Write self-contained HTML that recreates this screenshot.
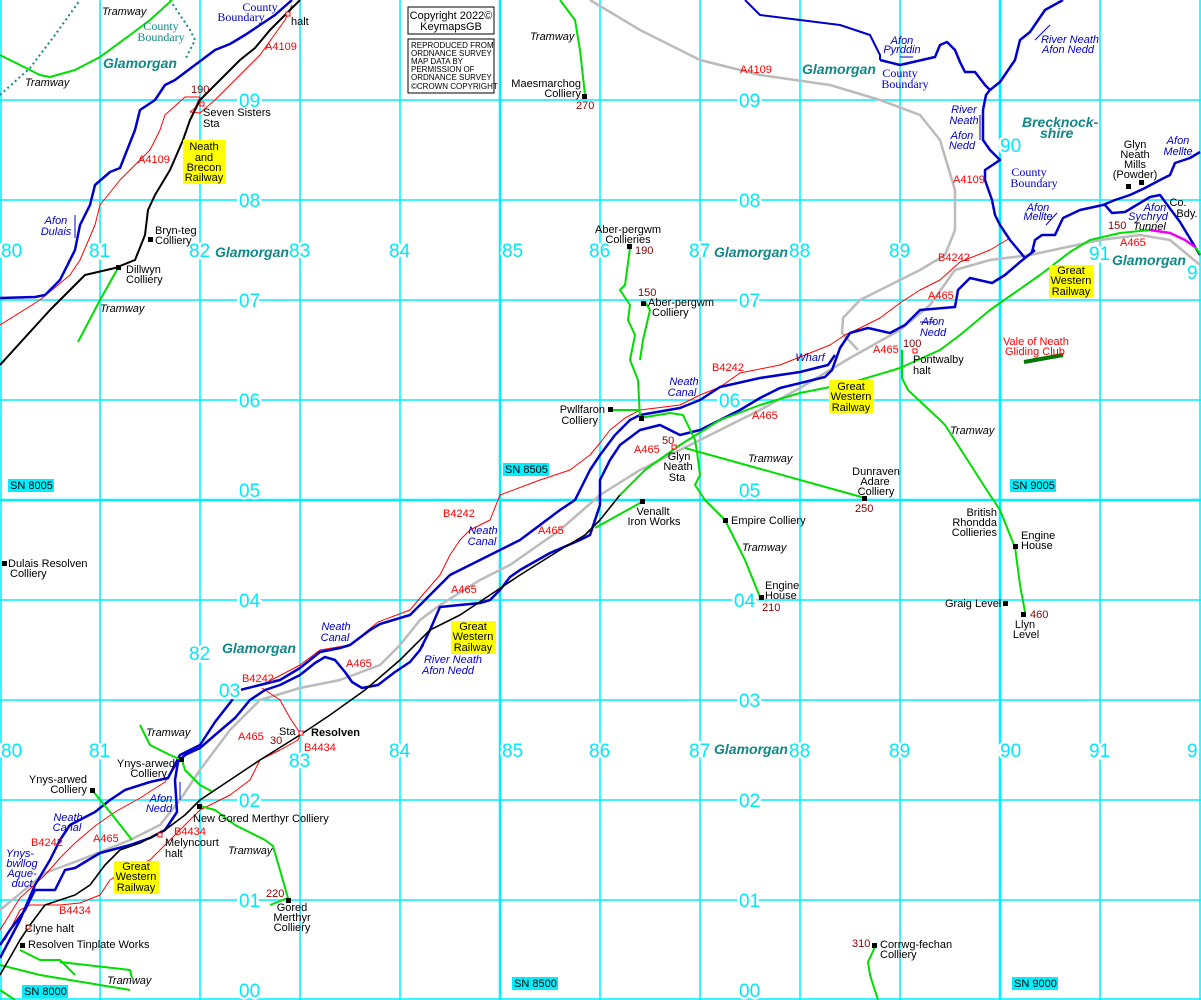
<!DOCTYPE html>
<html><head><meta charset="utf-8"><style>
html,body{margin:0;padding:0;background:#fff}
svg{display:block}
text{font-family:"Liberation Sans",Arial,sans-serif;font-size:11px}
.g text{fill:#00e8f8;font-size:19px;stroke:#fff;stroke-width:5px;paint-order:stroke}
.k text{fill:#000}
.r text{fill:#f00}
.m text{fill:#800}
.b text{fill:#00c;font-style:italic}
.t text{font-style:italic;fill:#000}
.gl text{fill:#118888;font-weight:bold;font-style:italic;font-size:14px}
.cb text{fill:#00c;font-family:"Liberation Serif",serif;font-size:12px}
.cbt text{fill:#118888;font-family:"Liberation Serif",serif;font-size:12px}
.sm text{font-size:8px;fill:#000}
</style></head><body>
<svg width="1201" height="1000" viewBox="0 0 1201 1000" xmlns="http://www.w3.org/2000/svg">
<rect width="1201" height="1000" fill="#fff"/>
<g stroke="#00eeff" stroke-width="1.5">
<line x1="1" y1="0" x2="1" y2="1000"/><line x1="100" y1="0" x2="100" y2="1000"/><line x1="200" y1="0" x2="200" y2="1000"/><line x1="300" y1="0" x2="300" y2="1000"/><line x1="400" y1="0" x2="400" y2="1000"/><line x1="500" y1="0" x2="500" y2="1000" stroke-width="2.5"/><line x1="600" y1="0" x2="600" y2="1000"/><line x1="700" y1="0" x2="700" y2="1000"/><line x1="800" y1="0" x2="800" y2="1000"/><line x1="900" y1="0" x2="900" y2="1000"/><line x1="1000" y1="0" x2="1000" y2="1000" stroke-width="2.5"/><line x1="1100" y1="0" x2="1100" y2="1000"/><line x1="1200" y1="0" x2="1200" y2="1000"/>
<line x1="0" y1="100" x2="1201" y2="100"/><line x1="0" y1="200" x2="1201" y2="200"/><line x1="0" y1="300" x2="1201" y2="300"/><line x1="0" y1="400" x2="1201" y2="400"/><line x1="0" y1="500" x2="1201" y2="500" stroke-width="2.5"/><line x1="0" y1="600" x2="1201" y2="600"/><line x1="0" y1="700" x2="1201" y2="700"/><line x1="0" y1="800" x2="1201" y2="800"/><line x1="0" y1="900" x2="1201" y2="900"/><line x1="0" y1="999" x2="1201" y2="999"/>
</g>
<g stroke="#118888" stroke-width="2" fill="none" stroke-dasharray="2,3">
<polyline points="0,95 30,68 55,35 80,0"/>
<polyline points="170,0 190,30 195,40 185,60"/>
</g>
<g fill="none" stroke-linejoin="round">
<polyline stroke="#bbb" stroke-width="2.5" points="0,910 45,873 80,860 130,840 160,825 180,800 200,770 230,730 260,700 300,688 340,680 380,665 400,645 420,620 440,605 480,580 510,565 560,530 600,495 640,470 700,440 760,410 800,388 850,358 900,330 930,305 955,270 990,260 1030,255 1100,240 1140,235 1170,240 1200,265"/>
<polyline stroke="#bbb" stroke-width="2.5" points="590,0 640,30 700,60 760,75 830,85 880,100 920,115 940,140 955,190 955,230 945,255 920,270 890,285 860,300 843,318 842,333 858,350"/>
<polyline stroke="#f00" stroke-width="1" points="0,325 40,300 70,275 80,260 95,225 100,205 120,180 150,150 160,130 165,115 185,97 188,97 200,97 195,108 190,112 200,113 215,100 235,80 260,55 285,20 292,5"/>
<polyline stroke="#f00" stroke-width="1" points="0,930 20,898 45,875 60,858 75,843 95,826 115,812 140,798 165,782 180,760 200,745 213,725 240,690 262,685 300,665 320,650 350,645 378,622 410,610 420,598 440,575 450,555 460,540 470,530 490,520 500,495 540,480 570,470 590,455 600,443 610,430 625,418 640,410 680,405 700,395 720,387 740,373 780,365 830,345 845,335 860,328 880,318 900,303 920,290 940,280 960,262 990,250 1010,238"/>
<polyline stroke="#f00" stroke-width="1" points="262,688 280,700 290,718 300,733"/>
<polyline stroke="#f00" stroke-width="1" points="5,940 20,910 30,905 60,905 80,903 100,895 110,880 125,870 150,860 170,840 200,810 210,805 230,795 250,780 260,760 280,750 298,740 300,735"/>
<polyline stroke="#00c" stroke-width="2.5" points="0,298 35,297 45,295 60,280 75,250 80,225 90,205 95,185 110,172 120,168 135,130 140,110 155,100 165,85 175,80 195,65 215,50 230,44 245,35 260,25 275,15 292,0"/>
<polyline stroke="#00c" stroke-width="2.5" points="0,958 20,920 35,885 50,860 60,840 70,825 95,812 110,800 125,790 150,782 168,778 180,755 200,745 215,722 240,690 260,685 280,680 300,668 320,652 340,648 350,645 370,630 380,624 410,615 430,595 450,575 480,560 520,540 560,510 575,500 590,470 600,455 615,435 630,420 640,415 680,408 700,400 720,387 760,378 800,372 828,365 835,355"/>
<polyline stroke="#00c" stroke-width="2.5" points="0,945 10,930 25,910 35,890 55,890 65,870 75,868 100,853 130,845 150,838 165,830 177,812 175,780 178,762 185,755 200,748 215,735 235,718 250,700 265,690 280,685 300,675 315,663 325,657 335,660 345,672 352,682 362,688 378,685 395,672 410,662 420,650 430,630 440,607 480,603 490,600 500,590 510,577 520,570 550,553 580,540 590,535 600,505 600,480 610,460 620,445 640,430 660,425 680,435 700,430 720,420 740,410 760,398 780,388 825,377 832,370 840,348 850,333 868,328 890,333 905,325 920,310 955,307 958,290 970,278 992,283 1005,275 1020,262 1035,250"/>
<polyline stroke="#00c" stroke-width="2.5" points="1025,258 1010,240 1000,225 995,215 992,200 985,180 985,170 1000,160 990,150 983,140 983,110 986,95 990,90 1000,82 1015,60 1020,40 1030,32 1045,10 1063,0"/>
<polyline stroke="#00c" stroke-width="2.5" points="880,60 900,65 935,57 940,45 947,42 955,50 960,62 965,72 975,72 985,85 990,90"/>
<polyline stroke="#00c" stroke-width="2" points="745,0 760,15 800,20 840,25 870,35 880,55 880,60"/>
<polyline stroke="#00c" stroke-width="2.5" points="1032,252 1035,240 1042,235 1055,235 1063,218 1080,210 1103,205 1115,200 1130,195 1145,188 1160,180 1170,175 1175,163 1190,158 1200,152"/>
<polyline stroke="#00c" stroke-width="2.5" points="1105,205 1112,213 1125,212 1150,197 1160,195 1180,222 1200,255"/>
<polyline stroke="#0d0" stroke-width="2" points="0,55 40,75 50,77 75,70 100,57 130,35 150,20 172,0"/>
<polyline stroke="#0d0" stroke-width="2" points="118,268 100,300 78,342"/>
<polyline stroke="#0d0" stroke-width="2" points="560,0 575,20 580,50 585,95"/>
<polyline stroke="#0d0" stroke-width="2" points="630,248 625,285 620,290 630,305 628,320 635,335 630,360 638,380 640,418"/>
<polyline stroke="#0d0" stroke-width="2" points="645,302 650,310 643,340 640,360"/>
<polyline stroke="#0d0" stroke-width="2" points="610,410 640,410"/>
<polyline stroke="#0d0" stroke-width="2" points="640,418 670,413 683,415 695,440 697,452 700,475 695,485 705,500 725,520 745,560 760,597"/>
<polyline stroke="#0d0" stroke-width="2" points="685,448 865,498"/>
<polyline stroke="#0d0" stroke-width="2" points="595,528 640,503 645,502"/>
<polyline stroke="#0d0" stroke-width="2" points="620,495 645,470 680,445 720,420 760,405 800,393 850,383 900,368 940,350 960,335 990,310 1000,303 1040,275 1070,252 1090,240 1120,233 1150,230"/>
<polyline stroke="#e0e" stroke-width="2.5" points="1150,230 1170,233 1185,240 1195,247"/>
<polyline stroke="#0d0" stroke-width="2" points="1195,247 1201,255"/>
<polyline stroke="#0d0" stroke-width="2" points="902,350 902,378 908,390 940,420 945,425 990,495 1000,510 1012,540 1015,547 1020,585 1025,612"/>
<polyline stroke="#070" stroke-width="4" points="1024,362 1063,355"/>
<polyline stroke="#0d0" stroke-width="2" points="140,725 150,745 170,755 182,760 185,770 200,785 213,792"/>
<polyline stroke="#0d0" stroke-width="2" points="92,790 110,812 132,840"/>
<polyline stroke="#0d0" stroke-width="2" points="200,806 215,810 235,825 265,840 273,846 288,898 270,905"/>
<polyline stroke="#0d0" stroke-width="2" points="20,950 40,960 60,960 75,975"/>
<polyline stroke="#0d0" stroke-width="2" points="60,962 130,970 132,978"/>
<polyline stroke="#0d0" stroke-width="2" points="0,965 40,975 100,985 130,990"/>
<polyline stroke="#0d0" stroke-width="2" points="0,990 15,1000"/>
<polyline stroke="#0d0" stroke-width="2" points="875,947 868,962 870,975 878,1000"/>
<polyline stroke="#000" stroke-width="2" points="0,365 50,310 70,290 85,275 115,268 135,260 145,235 148,210 155,195 170,170 183,140 190,120 200,100 215,85 240,60 255,48 270,30 285,15 300,0"/>
<polyline stroke="#000" stroke-width="1.6" points="0,975 20,940 30,925 45,905 75,895 90,885 105,865 120,850 140,843 165,830 185,815 200,800 230,780 260,760 300,735 330,715 365,690 400,660 430,630 460,615 490,595 520,575 560,550 585,535 600,520 620,495"/>
</g>
<g stroke="#00c" stroke-width="1" fill="none">
<line x1="75" y1="215" x2="75" y2="238"/><line x1="900" y1="57" x2="913" y2="57"/><line x1="980" y1="115" x2="980" y2="140"/><line x1="1050" y1="25" x2="1035" y2="40"/><line x1="1057" y1="213" x2="1046" y2="225"/><line x1="935" y1="322" x2="920" y2="322"/><line x1="180" y1="782" x2="180" y2="800"/><line x1="424" y1="645" x2="413" y2="658"/>
</g>
<g fill="#000">
<rect x="116" y="265" width="5" height="5"/><rect x="148" y="237" width="5" height="5"/><rect x="582" y="94" width="5" height="5"/><rect x="627" y="244" width="5" height="5"/><rect x="641" y="301" width="5" height="5"/><rect x="608" y="407" width="5" height="5"/><rect x="639" y="416" width="5" height="5"/><rect x="640" y="499" width="5" height="5"/><rect x="723" y="518" width="5" height="5"/><rect x="759" y="595" width="5" height="5"/><rect x="862" y="496" width="5" height="5"/><rect x="1013" y="544" width="5" height="5"/><rect x="1003" y="601" width="5" height="5"/><rect x="1021" y="612" width="5" height="5"/><rect x="1126" y="184" width="5" height="5"/><rect x="1139" y="180" width="5" height="5"/><rect x="2" y="561" width="5" height="5"/><rect x="179" y="757" width="5" height="5"/><rect x="90" y="788" width="5" height="5"/><rect x="197" y="804" width="5" height="5"/><rect x="286" y="898" width="5" height="5"/><rect x="20" y="943" width="5" height="5"/><rect x="872" y="943" width="5" height="5"/>
</g>
<g fill="#fff" stroke="#f00" stroke-width="1">
<rect x="286" y="12" width="4" height="4"/><rect x="200" y="102" width="4" height="4"/><rect x="672" y="445" width="4" height="4"/><rect x="913" y="349" width="4" height="4"/><rect x="299" y="731" width="4" height="4"/><rect x="158" y="833" width="4" height="4"/><rect x="26" y="925" width="4" height="4"/>
</g>
<g fill="#ff0">
<rect x="183" y="140" width="43" height="44"/><rect x="1049" y="265" width="45" height="33"/><rect x="829" y="380" width="45" height="33"/><rect x="451" y="621" width="45" height="33"/><rect x="114" y="861" width="45" height="33"/>
</g>
<g class="k" text-anchor="middle">
<text x="204" y="150">Neath</text><text x="204" y="161">and</text><text x="204" y="171">Brecon</text><text x="204" y="181">Railway</text>
<text x="1071" y="274">Great</text><text x="1071" y="284">Western</text><text x="1071" y="295">Railway</text>
<text x="851" y="390">Great</text><text x="851" y="400">Western</text><text x="851" y="411">Railway</text>
<text x="473" y="630">Great</text><text x="473" y="640">Western</text><text x="473" y="651">Railway</text>
<text x="136" y="870">Great</text><text x="136" y="880">Western</text><text x="136" y="891">Railway</text>
</g>
<g fill="#00eeff"><rect x="8" y="479" width="46" height="13"/><rect x="503" y="463" width="46" height="13"/><rect x="1010" y="479" width="46" height="13"/><rect x="22" y="985" width="46" height="13"/><rect x="512" y="977" width="46" height="13"/><rect x="1012" y="977" width="46" height="13"/></g>
<g class="k"><text x="10" y="489">SN 8005</text><text x="505" y="473">SN 8505</text><text x="1012" y="489">SN 9005</text><text x="24" y="995">SN 8000</text><text x="514" y="987">SN 8500</text><text x="1014" y="987">SN 9000</text></g>
<rect x="408" y="7" width="86" height="27" fill="#fff" stroke="#000"/>
<rect x="408" y="39" width="86" height="54" fill="#fff" stroke="#000"/>
<g class="k" text-anchor="middle"><text x="451" y="19">Copyright 2022©</text><text x="451" y="30">KeymapsGB</text></g>
<g class="sm"><text x="411" y="48">REPRODUCED FROM</text><text x="411" y="56">ORDNANCE SURVEY</text><text x="411" y="64">MAP DATA BY</text><text x="411" y="72">PERMISSION OF</text><text x="411" y="80">ORDNANCE SURVEY</text><text x="411" y="89">©CROWN COPYRIGHT</text></g>
<g class="g">
<text x="1" y="257">80</text><text x="89" y="257">81</text><text x="189" y="257">82</text><text x="289" y="257">83</text><text x="389" y="257">84</text><text x="502" y="257">85</text><text x="589" y="257">86</text><text x="689" y="257">87</text><text x="789" y="257">88</text><text x="889" y="257">89</text><text x="1000" y="152">90</text><text x="1089" y="260">91</text><text x="1187" y="279">9</text>
<text x="1" y="757">80</text><text x="89" y="757">81</text><text x="289" y="767">83</text><text x="389" y="757">84</text><text x="502" y="757">85</text><text x="589" y="757">86</text><text x="689" y="757">87</text><text x="789" y="757">88</text><text x="889" y="757">89</text><text x="1000" y="757">90</text><text x="1089" y="757">91</text><text x="1187" y="757">9</text>
<text x="189" y="660">82</text><text x="219" y="697">03</text>
<text x="239" y="107">09</text><text x="739" y="107">09</text><text x="239" y="207">08</text><text x="739" y="207">08</text><text x="239" y="307">07</text><text x="739" y="307">07</text><text x="239" y="407">06</text><text x="719" y="407">06</text><text x="239" y="497">05</text><text x="739" y="497">05</text><text x="239" y="607">04</text><text x="734" y="607">04</text><text x="739" y="707">03</text><text x="239" y="807">02</text><text x="739" y="807">02</text><text x="239" y="907">01</text><text x="739" y="907">01</text><text x="239" y="997">00</text><text x="739" y="997">00</text>
</g>
<g class="gl"><text x="103" y="68">Glamorgan</text><text x="215" y="257">Glamorgan</text><text x="714" y="257">Glamorgan</text><text x="802" y="74">Glamorgan</text><text x="1112" y="265">Glamorgan</text><text x="222" y="653">Glamorgan</text><text x="714" y="754">Glamorgan</text><text x="1022" y="127">Brecknock-</text><text x="1040" y="138">shire</text></g>
<g class="cb" text-anchor="middle"><text x="260" y="11">County</text><text x="241" y="21">Boundary</text><text x="900" y="77">County</text><text x="905" y="88">Boundary</text><text x="1029" y="176">County</text><text x="1034" y="187">Boundary</text></g>
<g class="cbt" text-anchor="middle"><text x="161" y="30">County</text><text x="161" y="41">Boundary</text></g>
<g class="b" text-anchor="middle"><text x="56" y="224">Afon</text><text x="56" y="235">Dulais</text><text x="902" y="44">Afon</text><text x="902" y="53">Pyrddin</text><text x="1070" y="43">River Neath</text><text x="1068" y="53">Afon Nedd</text><text x="964" y="113">River</text><text x="964" y="124">Neath</text><text x="962" y="139">Afon</text><text x="962" y="149">Nedd</text><text x="1178" y="144">Afon</text><text x="1178" y="155">Mellte</text><text x="1038" y="211">Afon</text><text x="1038" y="220">Mellte</text><text x="1155" y="211">Afon</text><text x="1148" y="220">Sychryd</text><text x="933" y="325">Afon</text><text x="933" y="336">Nedd</text><text x="810" y="361">Wharf</text><text x="684" y="385">Neath</text><text x="682" y="396">Canal</text><text x="483" y="534">Neath</text><text x="482" y="545">Canal</text><text x="336" y="630">Neath</text><text x="335" y="641">Canal</text><text x="453" y="663">River Neath</text><text x="448" y="674">Afon Nedd</text><text x="161" y="802">Afon</text><text x="159" y="812">Nedd</text><text x="68" y="821">Neath</text><text x="67" y="831">Canal</text><text x="20" y="857">Ynys-</text><text x="22" y="867">bwllog</text><text x="22" y="877">Aque-</text><text x="22" y="887">duct</text></g>
<g class="k" text-anchor="middle"><text x="1178" y="206">Co.</text><text x="1187" y="217">Bdy.</text></g>
<g class="r"><text x="265" y="50">A4109</text><text x="138" y="163">A4109</text><text x="740" y="73">A4109</text><text x="953" y="183">A4109</text><text x="938" y="261">B4242</text><text x="1120" y="246">A465</text><text x="928" y="299">A465</text><text x="873" y="353">A465</text><text x="712" y="371">B4242</text><text x="752" y="419">A465</text><text x="634" y="453">A465</text><text x="443" y="517">B4242</text><text x="538" y="534">A465</text><text x="451" y="593">A465</text><text x="346" y="667">A465</text><text x="242" y="682">B4242</text><text x="238" y="740">A465</text><text x="304" y="751">B4434</text><text x="174" y="835">B4434</text><text x="93" y="842">A465</text><text x="31" y="846">B4242</text><text x="59" y="914">B4434</text><text x="1003" y="345">Vale of Neath</text><text x="1005" y="355">Gliding Club</text></g>
<g class="m"><text x="191" y="93">190</text><text x="576" y="109">270</text><text x="635" y="254">190</text><text x="638" y="296">150</text><text x="662" y="444">50</text><text x="903" y="347">100</text><text x="855" y="512">250</text><text x="762" y="611">210</text><text x="1030" y="618">460</text><text x="1108" y="229">150</text><text x="270" y="744">30</text><text x="266" y="897">220</text><text x="852" y="947">310</text></g>
<g class="t"><text x="102" y="15">Tramway</text><text x="25" y="86">Tramway</text><text x="530" y="40">Tramway</text><text x="100" y="312">Tramway</text><text x="748" y="462">Tramway</text><text x="742" y="551">Tramway</text><text x="950" y="434">Tramway</text><text x="146" y="736">Tramway</text><text x="228" y="854">Tramway</text><text x="107" y="984">Tramway</text><text x="1133" y="230">Tunnel</text></g>
<g class="k">
<text x="291" y="25">halt</text><text x="203" y="116">Seven Sisters</text><text x="203" y="127">Sta</text><text x="155" y="234">Bryn-teg</text><text x="155" y="244">Colliery</text><text x="126" y="273">Dillwyn</text><text x="126" y="283">Colliery</text>
<text x="913" y="363">Pontwalby</text><text x="913" y="374">halt</text>
<text x="1021" y="539">Engine</text><text x="1021" y="549">House</text><text x="945" y="607">Graig Level</text><text x="765" y="589">Engine</text><text x="765" y="599">House</text><text x="731" y="524">Empire Colliery</text>
<text x="648" y="306">Aber-pergwm</text><text x="652" y="316">Colliery</text><text x="8" y="567">Dulais Resolven</text><text x="10" y="577">Colliery</text>
<text x="25" y="932">Clyne halt</text><text x="28" y="948">Resolven Tinplate Works</text><text x="193" y="822">New Gored Merthyr Colliery</text><text x="165" y="846">Melyncourt</text><text x="165" y="857">halt</text><text x="279" y="735">Sta</text><text x="311" y="736" style="font-weight:bold">Resolven</text><text x="880" y="948">Corrwg-fechan</text><text x="880" y="958">Colliery</text>
</g>
<g class="k" text-anchor="end">
<text x="581" y="87">Maesmarchog</text><text x="581" y="97">Colliery</text><text x="605" y="413">Pwllfaron</text><text x="598" y="424">Colliery</text><text x="997" y="516">British</text><text x="997" y="526">Rhondda</text><text x="997" y="536">Collieries</text><text x="87" y="783">Ynys-arwed</text><text x="87" y="793">Colliery</text><text x="175" y="767">Ynys-arwed</text><text x="167" y="777">Colliery</text>
</g>
<g class="k" text-anchor="middle">
<text x="628" y="233">Aber-pergwm</text><text x="628" y="243">Collieries</text><text x="679" y="460">Glyn</text><text x="678" y="470">Neath</text><text x="677" y="481">Sta</text><text x="653" y="515">Venallt</text><text x="654" y="525">Iron Works</text><text x="876" y="475">Dunraven</text><text x="875" y="485">Adare</text><text x="876" y="495">Colliery</text><text x="1025" y="628">Llyn</text><text x="1026" y="638">Level</text><text x="292" y="911">Gored</text><text x="292" y="921">Merthyr</text><text x="292" y="931">Colliery</text><text x="1135" y="148">Glyn</text><text x="1135" y="158">Neath</text><text x="1135" y="168">Mills</text><text x="1135" y="178">(Powder)</text>
</g>
</svg>
</body></html>
